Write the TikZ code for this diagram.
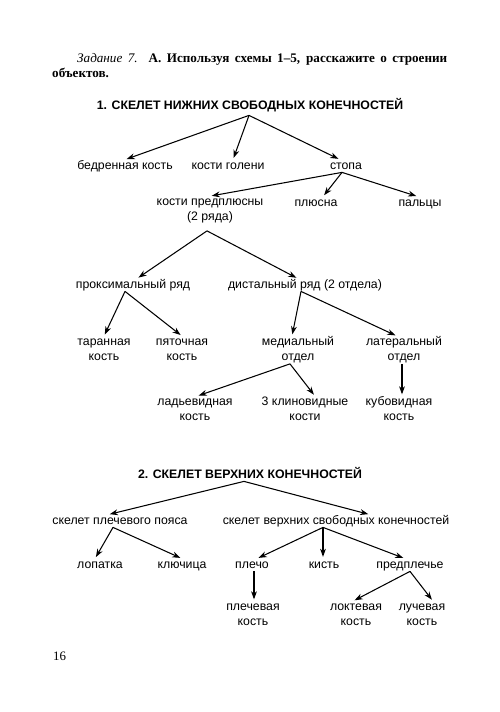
\documentclass[tikz,border=0pt]{standalone}
\usepackage{fontspec}
\setmainfont{Liberation Serif}
\newfontfamily\schemefont{Liberation Sans}
\usetikzlibrary{calc,arrows.meta}
\tikzset{
  lbl/.style={font=\schemefont\fontsize{10.5}{12.8}\selectfont,inner sep=0pt,text height=8pt,text depth=2.5pt,align=center},
  lbltwo/.style={lbl,text height=20.8pt},
  ttl/.style={font=\schemefont\bfseries\fontsize{10.5}{12.8}\selectfont,inner sep=0pt,text height=8pt,text depth=2.5pt},
  arr/.style={line width=0.9pt,-{Stealth[length=7pt,width=5pt]},shorten >=1.5pt}
}

\begin{document}
\begin{tikzpicture}[x=0.3mm,y=-0.3mm]
\path[use as bounding box] (0,0) rectangle (500,712);
\node[anchor=north west,inner sep=0pt,text width=118.5mm,align=justify,font=\fontsize{11.2}{12.8}\selectfont] (task) at (52,53)
  {\hspace*{7.5mm}\textit{Задание 7.} \textbf{А. Используя схемы 1--5, расскажите о строении\linebreak объектов.}};

\node[ttl] (h1) at (250,106) {1. СКЕЛЕТ НИЖНИХ СВОБОДНЫХ КОНЕЧНОСТЕЙ};
\node[lbl] (bedro) at (125,166) {бедренная кость};
\node[lbl] (goleni) at (228,166) {кости голени};
\node[lbl] (stopa) at (346,166) {стопа};
\node[lbltwo] (predpl) at (210,210) {кости предплюсны\\(2 ряда)};
\node[lbl] (plyusna) at (316,203) {плюсна};
\node[lbl] (paltsy) at (420,203) {пальцы};
\node[lbl] (prox) at (133,285) {проксимальный ряд};
\node[lbl] (dist) at (305,285) {дистальный ряд (2 отдела)};
\node[lbltwo] (taran) at (104,350) {таранная\\кость};
\node[lbltwo] (pyat) at (182,350) {пяточная\\кость};
\node[lbltwo] (medial) at (298,350) {медиальный\\отдел};
\node[lbltwo] (lateral) at (404,350) {латеральный\\отдел};
\node[lbltwo] (ladya) at (195,410) {ладьевидная\\кость};
\node[lbltwo] (klin) at (305,410) {3 клиновидные\\кости};
\node[lbltwo] (kub) at (399,410) {кубовидная\\кость};

\draw[arr] ($(h1.south)+(-1,3)$) -- (bedro.north);
\draw[arr] ($(h1.south)+(-1,3)$) -- ($(goleni.north)+(5,0)$);
\draw[arr] ($(h1.south)+(-1,3)$) -- ($(stopa.north)+(-6,0)$);
\draw[arr] ($(stopa.south)+(-4,0)$) -- (predpl.north);
\draw[arr] ($(stopa.south)+(-4,0)$) -- ($(plyusna.north)+(7,0)$);
\draw[arr] ($(stopa.south)+(-4,0)$) -- ($(paltsy.north)+(-2,0)$);
\draw[arr] ($(predpl.south)+(-3,7)$) -- ($(prox.north)+(4,0)$);
\draw[arr] ($(predpl.south)+(-3,7)$) -- ($(dist.north)+(-7,0)$);
\draw[arr] ($(prox.south)+(-8,0)$) -- (taran.north);
\draw[arr] ($(prox.south)+(-8,0)$) -- (pyat.north);
\draw[arr] ($(dist.south)+(-4,0)$) -- ($(medial.north)+(-6,0)$);
\draw[arr] ($(dist.south)+(-4,0)$) -- ($(lateral.north)+(-7,0)$);
\draw[arr] ($(medial.south)+(-8,0)$) -- ($(ladya.north)+(2,0)$);
\draw[arr] ($(medial.south)+(-8,0)$) -- ($(klin.north)+(10,0)$);
\draw[arr] ($(lateral.south)+(-2,0)$) -- ($(kub.north)+(3,0)$);

\node[ttl] (h2) at (250,475) {2. СКЕЛЕТ ВЕРХНИХ КОНЕЧНОСТЕЙ};
\node[lbl] (poyas) at (120,521) {скелет плечевого пояса};
\node[lbl] (svob) at (336,521) {скелет верхних свободных конечностей};
\node[lbl] (lopatka) at (100,565) {лопатка};
\node[lbl] (klyuch) at (182,565) {ключица};
\node[lbl] (pleche) at (252,565) {плечо};
\node[lbl] (kist) at (324,565) {кисть};
\node[lbl] (predpl2) at (410,565) {предплечье};
\node[lbltwo] (plechkost) at (253,615) {плечевая\\кость};
\node[lbltwo] (lokt) at (356,615) {локтевая\\кость};
\node[lbltwo] (luch) at (422,615) {лучевая\\кость};

\draw[arr] ($(h2.south)+(-6,0)$) -- ($(poyas.north)+(-12,0)$);
\draw[arr] ($(h2.south)+(-6,0)$) -- ($(svob.north)+(34,0)$);
\draw[arr] ($(poyas.south)+(-7,0)$) -- ($(lopatka.north)+(-5,0)$);
\draw[arr] ($(poyas.south)+(-7,0)$) -- (klyuch.north);
\draw[arr] ($(svob.south)+(-13,0)$) -- ($(pleche.north)+(5,0)$);
\draw[arr] ($(svob.south)+(-13,0)$) -- ($(kist.north)+(-1,0)$);
\draw[arr] ($(svob.south)+(-13,0)$) -- ($(predpl2.north)+(-5,0)$);
\draw[arr] ($(pleche.south)+(2,0)$) -- ($(plechkost.north)+(1,0)$);
\draw[arr] (predpl2.south) -- ($(lokt.north)+(-3,0)$);
\draw[arr] (predpl2.south) -- ($(luch.north)+(11,0)$);

\node[anchor=west,inner sep=0pt,font=\fontsize{11}{13}\selectfont] (page) at (53,656) {16};
\end{tikzpicture}
\end{document}
